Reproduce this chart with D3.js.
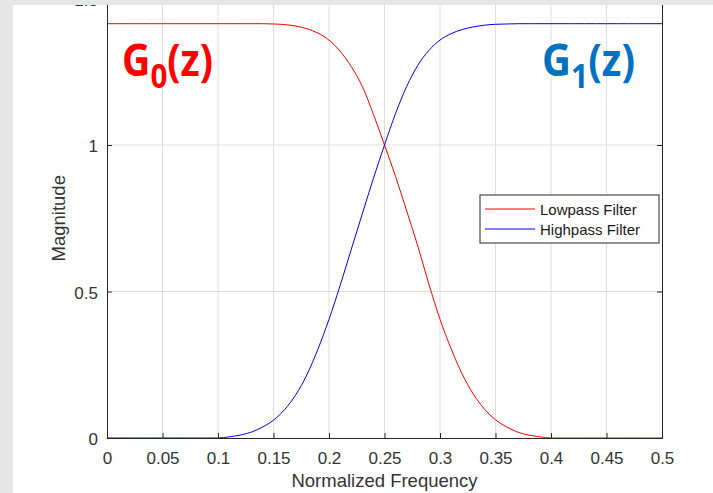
<!DOCTYPE html>
<html>
<head>
<meta charset="utf-8">
<script src="https://cdn.jsdelivr.net/npm/d3@7"></script>
<style>
body { margin:0; background:white; }
svg { display:block; font-family:"Liberation Sans", Arial, sans-serif; }
</style>
</head>
<body>
<svg></svg>
<script>

// normalized frequency samples
var freq = [0, 0.01, 0.02, 0.03, 0.04, 0.05, 0.06, 0.07, 0.08, 0.09,
            0.10, 0.11, 0.12, 0.13, 0.14, 0.15, 0.16, 0.17, 0.18, 0.19,
            0.20, 0.21, 0.22, 0.23, 0.24, 0.25, 0.26, 0.27, 0.28, 0.29,
            0.30, 0.31, 0.32, 0.33, 0.34, 0.35, 0.36, 0.37, 0.38, 0.39,
            0.40, 0.41, 0.42, 0.43, 0.44, 0.45, 0.46, 0.47, 0.48, 0.49, 0.50]

var lowpass = [1.414, 1.414, 1.414, 1.414, 1.414, 1.414, 1.414, 1.414, 1.414, 1.414,
               1.414, 1.414, 1.414, 1.414, 1.414, 1.413, 1.411, 1.406, 1.397, 1.382,
               1.358, 1.320, 1.268, 1.200, 1.105, 1.000, 0.892, 0.775, 0.655, 0.525,
               0.405, 0.305, 0.218, 0.150, 0.099, 0.062, 0.038, 0.020, 0.010, 0.004,
               0, 0, 0, 0, 0, 0, 0, 0, 0, 0, 0]

var highpass = [0, 0, 0, 0, 0, 0, 0, 0, 0, 0,
                0, 0.004, 0.010, 0.020, 0.037, 0.061, 0.097, 0.147, 0.215, 0.303,
                0.405, 0.520, 0.643, 0.765, 0.886, 1.000, 1.108, 1.200, 1.272, 1.323,
                1.358, 1.380, 1.394, 1.403, 1.409, 1.412, 1.413, 1.414, 1.414, 1.414,
                1.414, 1.414, 1.414, 1.414, 1.414, 1.414, 1.414, 1.414, 1.414, 1.414, 1.414]

var xTicks = [0, 0.05, 0.1, 0.15, 0.2, 0.25, 0.3, 0.35, 0.4, 0.45, 0.5]
var yTicks = [0, 0.5, 1, 1.5]
var seriesNames = ["Lowpass Filter", "Highpass Filter"]
var seriesColors = ["#ff0000", "#0000ff"]

var screen = {width:713, height:493}
var margins = {top:-1.5, right:51, bottom:55, left:107}

var width = screen.width - margins.left - margins.right
var height = screen.height - margins.top - margins.bottom

var svg = d3.select("svg")
    .attr("width", screen.width)
    .attr("height", screen.height)

// grey frame of the screenshot
svg.append("rect").attr("x",0).attr("y",0).attr("width",13).attr("height",screen.height).attr("fill","#e6e6e6")

var xScale = d3.scaleLinear().domain([0,0.5]).range([0,width])
var yScale = d3.scaleLinear().domain([0,1.5]).range([height,0])

var graph = svg.append("g")
    .attr("id","graph")
    .attr("transform","translate("+margins.left+","+margins.top+")")

// grid
graph.append("g").selectAll("line")
    .data(xTicks.slice(1,-1))
    .enter().append("line")
    .attr("x1",function(d){return xScale(d)}).attr("x2",function(d){return xScale(d)})
    .attr("y1",0).attr("y2",height)
    .attr("stroke","#dfdfdf")

graph.append("g").selectAll("line")
    .data(yTicks.slice(1,-1))
    .enter().append("line")
    .attr("y1",function(d){return yScale(d)}).attr("y2",function(d){return yScale(d)})
    .attr("x1",0).attr("x2",width)
    .attr("stroke","#dfdfdf")

// curves
var line = d3.line()
    .x(function(d,i){return xScale(freq[i])})
    .y(function(d){return yScale(d)})
    .curve(d3.curveMonotoneX)

graph.append("path").datum(lowpass)
    .attr("d",line).attr("fill","none").attr("stroke",seriesColors[0]).attr("stroke-width",1)
graph.append("path").datum(highpass)
    .attr("d",line).attr("fill","none").attr("stroke",seriesColors[1]).attr("stroke-width",1)

// axes (inward ticks, box)
var axisColor = "#262626"
var fmt = function(d){return d3.format("")(d)}

var xAxis = d3.axisBottom(xScale).tickValues(xTicks).tickSize(-5).tickPadding(14).tickFormat(fmt)
var xAxisTop = d3.axisTop(xScale).tickValues(xTicks).tickSize(-5).tickFormat("")
var yAxis = d3.axisLeft(yScale).tickValues(yTicks).tickSize(-5).tickPadding(9).tickFormat(fmt)
var yAxisRight = d3.axisRight(yScale).tickValues(yTicks).tickSize(-5).tickFormat("")

var styleAxis = function(g)
{
    g.select(".domain").attr("stroke",axisColor)
    g.selectAll(".tick line").attr("stroke",axisColor)
    g.selectAll(".tick text").attr("fill","#333").style("font-size","17px")
        .style("font-family","'Liberation Sans', Arial, sans-serif")
}

graph.append("g").attr("transform","translate(0,"+height+")").call(xAxis).call(styleAxis)
graph.append("g").call(xAxisTop).call(styleAxis)
graph.append("g").attr("transform","translate("+width+",0)").call(yAxisRight).call(styleAxis)

// top grey band sits over the axes box
svg.append("rect").attr("x",0).attr("y",0).attr("width",screen.width).attr("height",5).attr("fill","#e6e6e6")

graph.append("g").call(yAxis).call(styleAxis)
    .selectAll(".tick text").attr("dy","0.4em")

// axis labels
svg.append("text")
    .attr("x", margins.left + width/2)
    .attr("y", 487)
    .attr("text-anchor","middle")
    .attr("fill","#333")
    .style("font-size","18.5px")
    .text("Normalized Frequency")

svg.append("text")
    .attr("transform","translate(65,"+(margins.top + height/2)+") rotate(-90)")
    .attr("text-anchor","middle")
    .attr("fill","#333")
    .style("font-size","18.5px")
    .text("Magnitude")

// legend
var legend = svg.append("g").attr("id","legend").attr("transform","translate(480,195)")
legend.append("rect")
    .attr("x",0).attr("y",0).attr("width",179).attr("height",48)
    .attr("fill","white").attr("stroke",axisColor)

var gs = legend.selectAll("g.item")
    .data(seriesNames)
    .enter()
    .append("g")
    .attr("class","item")
    .attr("transform",function(d,i){return "translate(0,"+(14+i*20)+")"})

gs.append("line")
    .attr("x1",5).attr("x2",55).attr("y1",0).attr("y2",0)
    .attr("stroke",function(d,i){return seriesColors[i]})
    .attr("stroke-width",1)

gs.append("text")
    .attr("x",60).attr("y",6)
    .attr("fill","#1a1a1a")
    .style("font-size","15px")
    .text(function(d){return d})

// G0(z) / G1(z) labels
var labels = [
    {sub:"0", color:"#ff0000", x:122, w:91},
    {sub:"1", color:"#0070c0", x:542, w:93}
]

labels.forEach(function(l)
{
    var t = svg.append("text")
        .attr("fill",l.color)
        .style("font-family","'Open Sans', sans-serif")
        .style("font-weight","bold")
        .style("font-size","45px")
    t.append("tspan").text("G")
    t.append("tspan").attr("dy",12).style("font-size","34px").text(l.sub)
    t.append("tspan").attr("dy",-12).text("(z)")
    var bw = t.node().getBBox().width
    t.attr("transform","translate("+l.x+",76) scale("+(l.w/bw)+",1)")
})

</script>
</body>
</html>
